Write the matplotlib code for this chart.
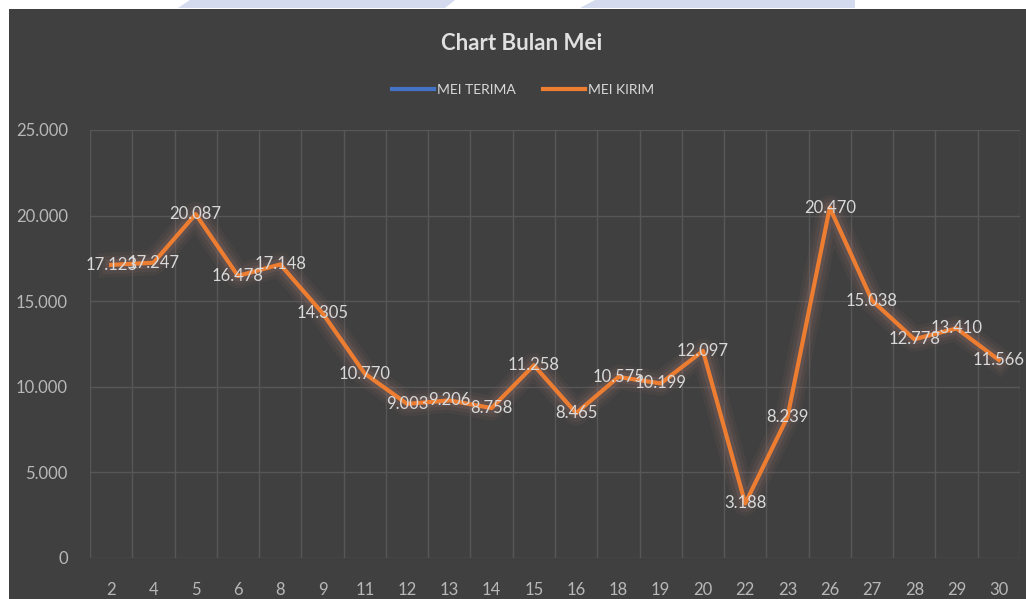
import numpy as np
import matplotlib.pyplot as plt
import matplotlib.patheffects as pe
from matplotlib.patches import Polygon, Rectangle
from matplotlib.lines import Line2D

plt.rcParams['font.family'] = ['Lato', 'DejaVu Sans']

tanggal = ['2', '4', '5', '6', '8', '9', '11', '12', '13', '14', '15', '16',
           '18', '19', '20', '22', '23', '26', '27', '28', '29', '30']
mei_kirim = [17123, 17247, 20087, 16478, 17148, 14305, 10770, 9003, 9206, 8758,
             11258, 8465, 10575, 10199, 12097, 3188, 8239, 20470, 15038, 12778,
             13410, 11566]
mei_terima = []   # series in legend, nothing drawn

bg = '#404040'
fig = plt.figure(figsize=(10.26, 5.99), dpi=100)
fig.patch.set_facecolor('white')

# dark chart area + watermark strip at top
fig.patches.append(Rectangle((9/1026, 0), 1, 1 - 9/599, transform=fig.transFigure,
                             facecolor=bg, edgecolor='none', zorder=-2))
for xs in [(178, 190, 455, 445), (580, 595, 855, 855)]:
    pts = [(xs[1]/1026, 1), (xs[2]/1026, 1), (xs[3]/1026, 1 - 8/599), (xs[0]/1026, 1 - 8/599)]
    fig.patches.append(Polygon(pts, closed=True, transform=fig.transFigure,
                               facecolor='#d5dbef', edgecolor='none', zorder=-2))

ax = fig.add_axes([90/1026, 1 - 558/599, 930/1026, 428/599])
ax.set_facecolor(bg)
x = np.arange(len(tanggal))

ax.plot(x[:len(mei_terima)], mei_terima, color='#4472C4', lw=3)
glow = [pe.Stroke(linewidth=18, foreground='#8a6a66', alpha=0.10),
        pe.Stroke(linewidth=13, foreground='#8a6a66', alpha=0.15),
        pe.Stroke(linewidth=8, foreground='#9a726a', alpha=0.22),
        pe.Normal()]
ax.plot(x, mei_kirim, color='#ED7D31', lw=3,
        solid_joinstyle='round', path_effects=glow, zorder=3)

for xi, v in zip(x, mei_kirim):
    ax.text(xi, v, f'{v:,}'.replace(',', '.'), ha='center', va='center',
            color='#d9d9d9', fontsize=12, zorder=4)

ax.set_xlim(-0.5, len(tanggal) - 0.5)
ax.set_ylim(0, 25000)
ax.set_yticks(np.arange(0, 25001, 5000))
ax.set_yticklabels(['0' if t == 0 else f'{t:,}'.replace(',', '.') for t in range(0, 25001, 5000)])
ax.set_xticks(x)
ax.set_xticklabels(tanggal)
ax.set_xticks(np.arange(-0.5, len(tanggal)), minor=True)
ax.grid(True, which='minor', axis='x', color='#575757', lw=1)
ax.grid(True, which='major', axis='y', color='#575757', lw=1)
ax.tick_params(which='both', length=0)
ax.tick_params(axis='y', pad=16, labelsize=12, colors='#b8b8b8')
ax.tick_params(axis='x', pad=17, labelsize=12, colors='#b8b8b8')
for s in ax.spines.values():
    s.set_visible(False)

fig.text(522/1026, 1 - 43/599, 'Chart Bulan Mei', ha='center', va='center',
         fontsize=16, fontweight='bold', color='#e0e0e0')
handles = [Line2D([], [], color='#4472C4', lw=3), Line2D([], [], color='#ED7D31', lw=3)]
fig.legend(handles, ['MEI TERIMA', 'MEI KIRIM'], loc='center',
           bbox_to_anchor=(523/1026, 1 - 90/599), ncol=2,
           frameon=False, fontsize=10, labelcolor='#d9d9d9',
           handlelength=3, handletextpad=0.2, columnspacing=2)

fig.savefig('out.png', dpi=100, facecolor=fig.get_facecolor())
